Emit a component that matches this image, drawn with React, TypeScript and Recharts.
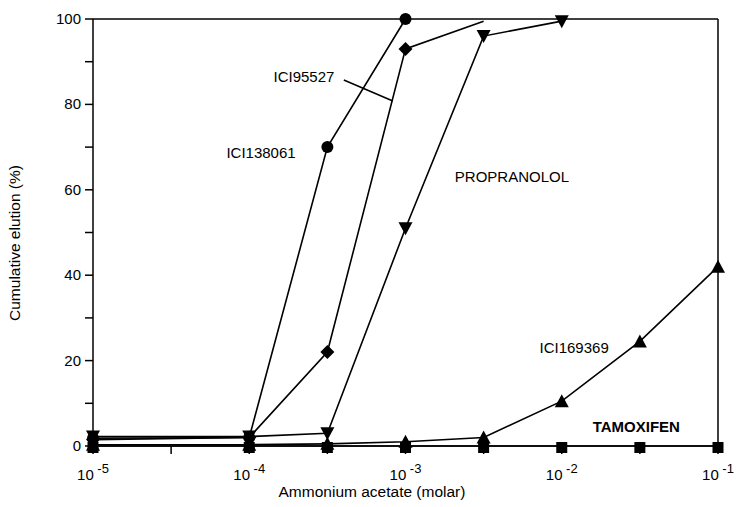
import React from "react";
import { LineChart, Line, XAxis, YAxis, ReferenceLine, ReferenceDot } from "recharts";

// ammonium acetate concentration (molar), half-decade steps
const concentrations = [1e-5, 1e-4, 3.162e-4, 1e-3, 3.162e-3, 1e-2, 3.162e-2, 1e-1];

// cumulative elution (%)
const ici138061 = [1.8, 2, 70, 100, null, null, null, null];
const ici95527 = [1.5, 2, 22, 93, 99.5, null, null, null];
const propranolol = [2.2, 2.2, 3, 51, 96, 99.5, null, null];
const ici169369 = [0.3, 0.3, 0.5, 1, 2, 10.5, 24.5, 42];
const tamoxifen = [0, 0, 0, 0, 0, 0, 0, 0];

const xTicks = [1e-5, 3.162e-5, 1e-4, 3.162e-4, 1e-3, 3.162e-3, 1e-2, 3.162e-2, 1e-1];
const yTicks = [0, 10, 20, 30, 40, 50, 60, 70, 80, 90, 100];

const data = concentrations.map((x, i) => ({
  x,
  ici138061: ici138061[i],
  ici95527: ici95527[i],
  propranolol: propranolol[i],
  ici169369: ici169369[i],
  tamoxifen: tamoxifen[i],
}));

const FONT = '"Liberation Sans", Arial, Helvetica, sans-serif';

type Shape = "circle" | "diamond" | "down" | "up" | "square";

// points whose marker is not drawn (line meets the frame there)
function marker(shape: Shape, hidden: number[] = []) {
  return (p: any) => {
    const { cx, cy, index } = p;
    if (cx == null || cy == null || p.value == null || hidden.includes(index)) return <g key={index} />;
    switch (shape) {
      case "circle":
        return <circle key={index} cx={cx} cy={cy} r={6} fill="#000" />;
      case "diamond":
        return (
          <polygon key={index} points={`${cx},${cy - 7} ${cx + 7},${cy} ${cx},${cy + 7} ${cx - 7},${cy}`} fill="#000" />
        );
      case "down":
        return (
          <polygon key={index} points={`${cx - 7},${cy - 6} ${cx + 7},${cy - 6} ${cx},${cy + 7}`} fill="#000" />
        );
      case "up":
        return (
          <polygon key={index} points={`${cx - 7},${cy + 6} ${cx + 7},${cy + 6} ${cx},${cy - 7}`} fill="#000" />
        );
      default:
        return <rect key={index} x={cx - 5.5} y={cy - 4} width={11} height={11} fill="#000" />;
    }
  };
}

function XTick({ x, y, payload }: any) {
  const lg = Math.log10(payload.value);
  const exp = Math.round(lg);
  if (Math.abs(lg - exp) > 0.01) return <g />;
  return (
    <text x={x} y={y + 24} textAnchor="middle" fontFamily={FONT} fontSize={15} fill="#000">
      10
      <tspan dy={-7} fontSize={13}>{` -${-exp}`}</tspan>
    </text>
  );
}

function YTick({ x, y, payload }: any) {
  if (payload.value % 20 !== 0) return <g />;
  return (
    <text x={x - 2} y={y + 5} textAnchor="end" fontFamily={FONT} fontSize={15} fill="#000">
      {payload.value}
    </text>
  );
}

const series: { key: string; shape: Shape; hidden?: number[] }[] = [
  { key: "tamoxifen", shape: "square" },
  { key: "ici169369", shape: "up" },
  { key: "propranolol", shape: "down" },
  { key: "ici95527", shape: "diamond", hidden: [4] },
  { key: "ici138061", shape: "circle" },
];

const tagStyle = { fontFamily: FONT, fontSize: 15, fill: "#000" };

export default function App() {
  return (
    <div style={{ position: "absolute", left: 0, top: 0, background: "#fff" }}>
      <LineChart width={736} height={507} data={data} margin={{ top: 19, right: 18, bottom: 6, left: 33 }}>
        <XAxis
          dataKey="x"
          type="number"
          scale="log"
          domain={[1e-5, 1e-1]}
          ticks={xTicks}
          height={55}
          tickSize={8}
          stroke="#000"
          strokeWidth={1.5}
          tick={<XTick />}
          label={{
            content: ({ viewBox }: any) => (
              <text x={372} y={viewBox.y + 51} textAnchor="middle" fontFamily={FONT} fontSize={15.5} fill="#000">
                Ammonium acetate (molar)
              </text>
            ),
          }}
        />
        <YAxis
          type="number"
          domain={[0, 100]}
          ticks={yTicks}
          width={60}
          tickSize={8}
          stroke="#000"
          strokeWidth={1.5}
          tick={<YTick />}
          label={{
            content: () => {
              const cx = 20;
              const cy = 243;
              return (
                <text
                  x={cx}
                  y={cy}
                  transform={`rotate(-90 ${cx} ${cy})`}
                  textAnchor="middle"
                  fontFamily={FONT}
                  fontSize={15.5}
                  fill="#000"
                >
                  Cumulative elution (%)
                </text>
              );
            },
          }}
        />
        <ReferenceLine y={100} stroke="#000" strokeWidth={1.5} />
        <ReferenceLine x={0.1} stroke="#000" strokeWidth={1.5} />
        <ReferenceLine
          segment={[
            { x: 4.03e-4, y: 85.7 },
            { x: 8.3e-4, y: 80.8 },
          ]}
          stroke="#000"
          strokeWidth={1.5}
        />
        {series.map((s) => (
          <Line
            key={s.key}
            dataKey={s.key}
            type="linear"
            stroke="#000"
            strokeWidth={1.6}
            dot={marker(s.shape, s.hidden)}
            activeDot={false}
            isAnimationActive={false}
          />
        ))}
        <ReferenceDot x={2.24e-4} y={86.4} r={0} stroke="none" label={{ value: "ICI95527", position: "center", ...tagStyle }} />
        <ReferenceDot x={1.19e-4} y={68.6} r={0} stroke="none" label={{ value: "ICI138061", position: "center", ...tagStyle }} />
        <ReferenceDot x={4.8e-3} y={63} r={0} stroke="none" label={{ value: "PROPRANOLOL", position: "center", ...tagStyle }} />
        <ReferenceDot x={1.2e-2} y={23} r={0} stroke="none" label={{ value: "ICI169369", position: "center", ...tagStyle }} />
        <ReferenceDot x={3.0e-2} y={4.5} r={0} stroke="none" label={{ value: "TAMOXIFEN", position: "center", ...tagStyle, fontWeight: "bold" }} />
      </LineChart>
    </div>
  );
}
